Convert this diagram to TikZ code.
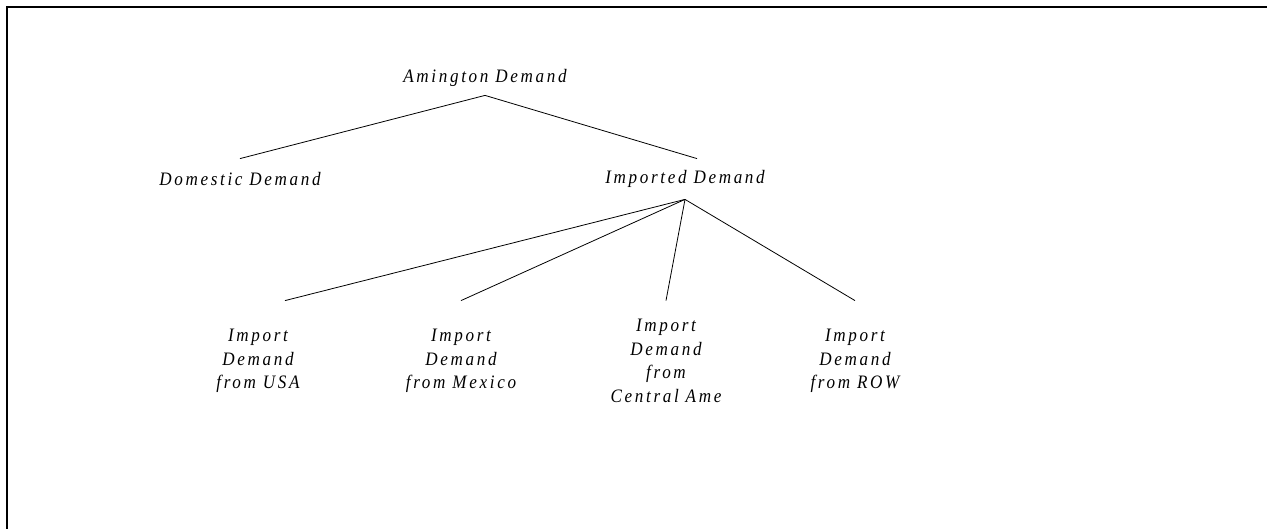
\documentclass[tikz,border=0pt]{standalone}
\usepackage{fontspec}
\setmainfont{Liberation Serif}
\newfontfamily\nestfont{Liberation Serif}[FakeStretch=0.9,LetterSpace=14]
\begin{document}
\begin{tikzpicture}[
        x=1pt, y=-1pt,
        line width=0.8pt,
        demand/.style={font=\nestfont\itshape\fontsize{19}{23.5}\selectfont,
            align=center, inner sep=0pt},
        upper/.style={demand, minimum height=40pt},
        leaf/.style={demand, minimum height=120pt}
    ]
        \useasboundingbox (0,0) rectangle (1267,529);
        \clip (0,0) rectangle (1267,529);
        % frame, open to the right and bottom
        \draw[line width=2.2pt] (7,600) -- (7,7) -- (1300,7);
        \node[demand, minimum height=34pt] (amington) at (485,78) {Amington Demand};
        \node[upper] (domestic) at (240,179) {Domestic Demand};
        \node[upper] (imported) at (685,179) {Imported Demand};
        \node[leaf] (usa) at (258,361) {Import\\Demand\\from USA};
        \node[leaf] (mexico) at (461,361) {Import\\Demand\\from Mexico};
        \node[leaf] (central) at (666,361) {Import\\Demand\\from\\Central Ame};
        \node[leaf] (row) at (855,361) {Import\\Demand\\from ROW};
        \draw (amington.south) -- (domestic.north);
        \draw (amington.south) -- ([xshift=12pt]imported.north);
        \draw (imported.south) -- ([xshift=27pt]usa.north);
        \draw (imported.south) -- (mexico.north);
        \draw (imported.south) -- (central.north);
        \draw (imported.south) -- (row.north);
    \end{tikzpicture}
\end{document}
